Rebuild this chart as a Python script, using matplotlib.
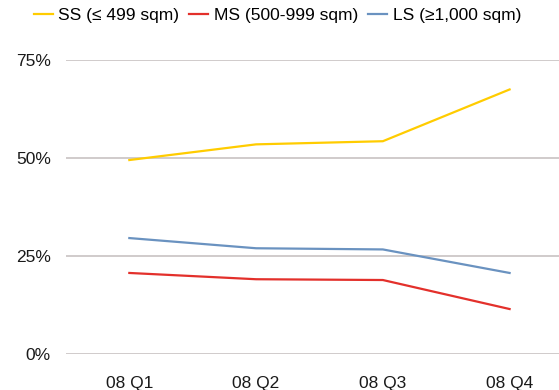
import matplotlib
matplotlib.use("Agg")
import matplotlib.pyplot as plt
from matplotlib.ticker import PercentFormatter

quarters = ["08 Q1", "08 Q2", "08 Q3", "08 Q4"]
ss_share = [49.5, 53.5, 54.3, 67.5]
ms_share = [20.7, 19.1, 18.9, 11.5]
ls_share = [29.6, 27.0, 26.7, 20.7]
y_ticks = [0, 25, 50, 75]

plt.rcParams['font.family'] = ['Liberation Sans', 'DejaVu Sans']

fig = plt.figure(figsize=(5.59, 3.90), dpi=100)
ax = fig.add_axes([0.118, 0.092, 0.907, 0.754])

x = range(len(quarters))
ax.plot(x, ss_share, color='#FFCC00', lw=1.6, label='SS (≤ 499 sqm)')
ax.plot(x, ms_share, color='#E3302B', lw=1.6, label='MS (500-999 sqm)')
ax.plot(x, ls_share, color='#6A92C0', lw=1.6, label='LS (≥1,000 sqm)')

ax.set_xlim(-0.5, 3.5)
ax.set_ylim(0, 75)
ax.set_xticks(list(x))
ax.set_xticklabels(quarters)
ax.set_yticks(y_ticks)
ax.yaxis.set_major_formatter(PercentFormatter(decimals=0))
ax.tick_params(axis='both', length=0, labelsize=12.5, colors='#1a1a1a')
ax.tick_params(axis='y', pad=11)
ax.tick_params(axis='x', pad=16)
ax.grid(axis='y', color='#C3BDBD', lw=1.1)
ax.set_axisbelow(True)
for s in ax.spines.values():
    s.set_visible(False)

fig.legend(loc='upper center', bbox_to_anchor=(0.496, 1.02), ncol=3, frameon=False,
           fontsize=12.5, handlelength=1.1, handletextpad=0.3, columnspacing=0.6)

fig.savefig('out.png', dpi=100)
